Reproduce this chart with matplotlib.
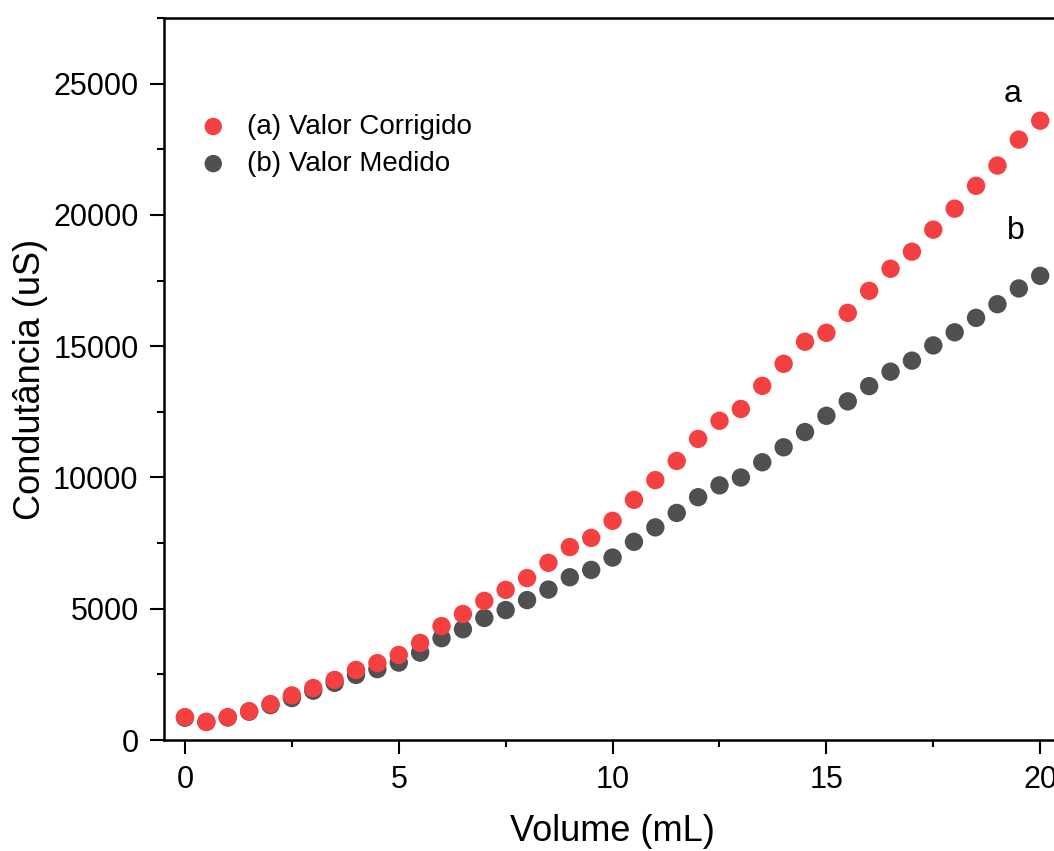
import matplotlib.pyplot as plt
from matplotlib.ticker import MultipleLocator

plt.rcParams['font.family'] = ['Liberation Sans', 'DejaVu Sans']

# Volume added (mL)
volume = [0, 0.5, 1.0, 1.5, 2.0, 2.5, 3.0, 3.5, 4.0, 4.5, 5.0, 5.5, 6.0, 6.5,
          7.0, 7.5, 8.0, 8.5, 9.0, 9.5, 10.0, 10.5, 11.0, 11.5, 12.0, 12.5,
          13.0, 13.5, 14.0, 14.5, 15.0, 15.5, 16.0, 16.5, 17.0, 17.5, 18.0,
          18.5, 19.0, 19.5, 20.0]

# (a) corrected conductance (uS)
corrigido = [870, 690, 870, 1100, 1370, 1700, 1980, 2290, 2670, 2930, 3240,
             3700, 4340, 4800, 5300, 5720, 6170, 6750, 7350, 7700, 8350, 9150,
             9900, 10630, 11470, 12160, 12610, 13490, 14330, 15170, 15510,
             16270, 17110, 17950, 18600, 19440, 20240, 21110, 21880, 22870,
             23590]

# (b) measured conductance (uS)
medido = [850, 690, 860, 1080, 1330, 1600, 1880, 2180, 2480, 2700, 2950,
          3330, 3880, 4220, 4650, 4950, 5330, 5730, 6200, 6480, 6950, 7550,
          8100, 8650, 9250, 9700, 10000, 10580, 11150, 11730, 12350, 12900,
          13480, 14030, 14450, 15030, 15530, 16080, 16600, 17200, 17680]

fig = plt.figure(figsize=(10.54, 8.51), dpi=100)
ax = fig.add_axes([0.1552, 0.1304, 0.852, 0.8484])

ax.scatter(volume, medido, s=175, color='#505050', edgecolors='none',
           label='(b) Valor Medido', zorder=3)
ax.scatter(volume, corrigido, s=175, color='#F44040', edgecolors='none',
           label='(a) Valor Corrigido', zorder=4)

ax.set_xlim(-0.5, 20.5)
ax.set_ylim(0, 27500)
ax.xaxis.set_major_locator(MultipleLocator(5))
ax.xaxis.set_minor_locator(MultipleLocator(2.5))
ax.yaxis.set_major_locator(MultipleLocator(5000))
ax.yaxis.set_minor_locator(MultipleLocator(2500))

ax.tick_params(which='major', length=10, width=1.5, labelsize=22, pad=8)
ax.tick_params(which='minor', length=5, width=1.5)
ax.tick_params(top=False, right=False)
for side in ['left', 'bottom', 'top', 'right']:
    ax.spines[side].set_linewidth(1.8)

ax.set_xlabel('Volume (mL)', fontsize=26, labelpad=14)
ax.set_ylabel('Condutância (uS)', fontsize=26, labelpad=4)

# Series tags next to the last points
ax.text(19.35, 24600, 'a', fontsize=23, ha='center', va='center')
ax.text(19.43, 19370, 'b', fontsize=23, ha='center', va='center')

handles, labels = ax.get_legend_handles_labels()
ax.legend(handles[::-1], labels[::-1], loc='upper left',
          bbox_to_anchor=(0.012, 0.902), frameon=False, fontsize=20,
          handlelength=1.0, handletextpad=0.7, labelspacing=0.4,
          markerscale=0.95)

fig.savefig('out.png', dpi=100)
